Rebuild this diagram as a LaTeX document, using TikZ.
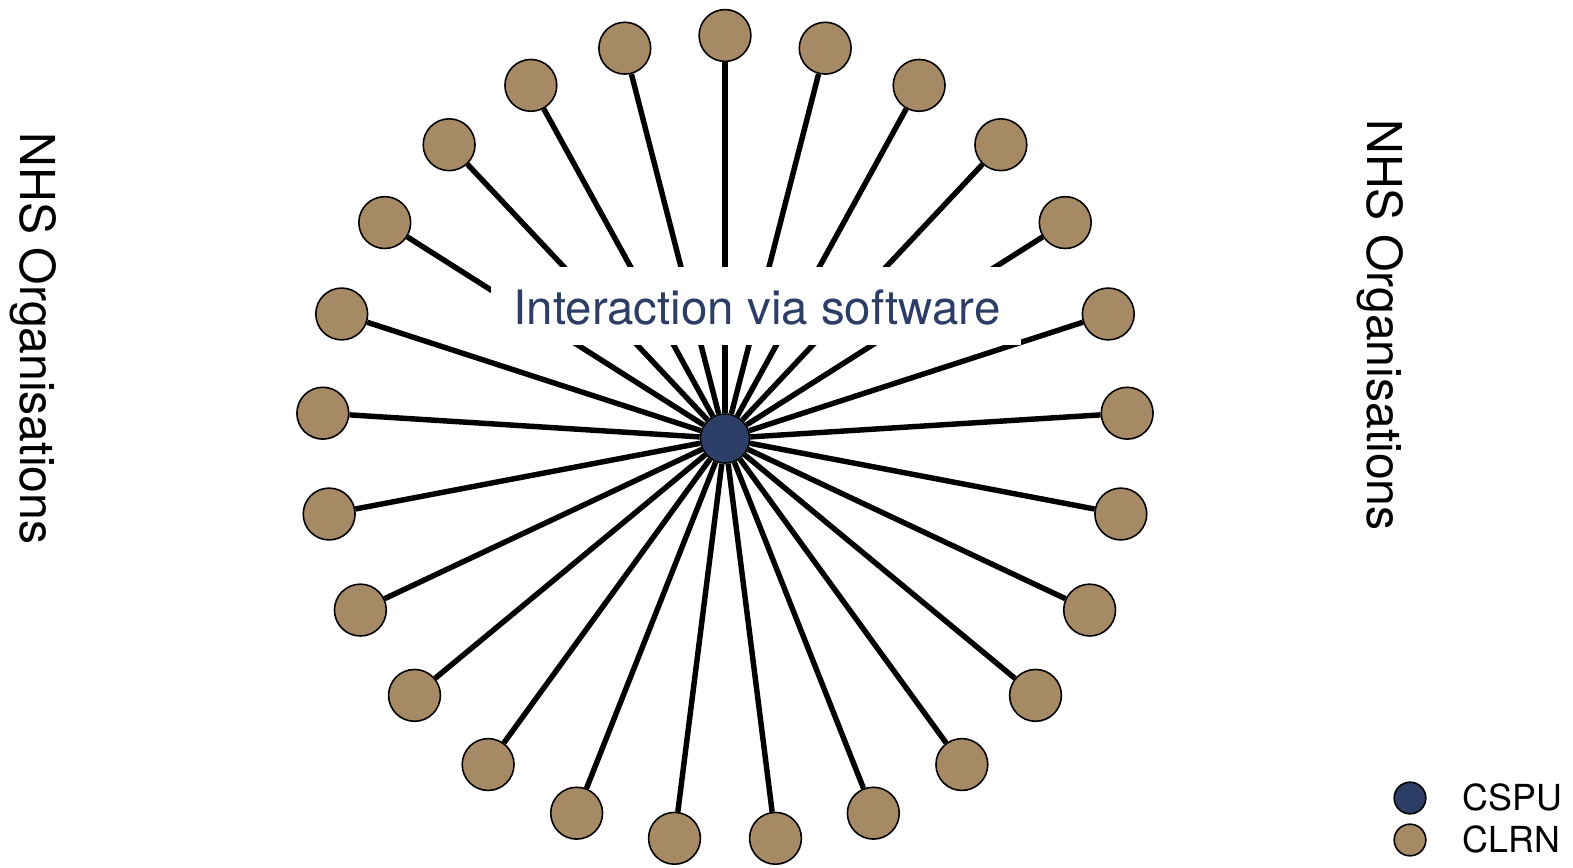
\documentclass[tikz,border=0pt]{standalone}
\usepackage{fontspec}
\setmainfont{TeX Gyre Heros}
\definecolor{navy}{RGB}{45,62,102}
\definecolor{tan}{RGB}{166,138,101}
\tikzset{
  clrn/.style={circle,draw=black,line width=0.9pt,fill=tan,minimum size=29.5pt,inner sep=0pt},
  cspu/.style={circle,draw=black,line width=0.9pt,fill=navy,minimum size=28pt,inner sep=0pt},
  spoke/.style={line width=3.1pt,black},
  sidetext/.style={font=\fontsize{27.4}{30}\selectfont,rotate=-90,anchor=base,inner sep=0pt},
  legtext/.style={font=\fontsize{20.4}{24}\selectfont,anchor=base west,inner sep=0pt},
  legdot/.style={circle,draw=black,line width=0.9pt,minimum size=18pt,inner sep=0pt}
}
\begin{document}
\begin{tikzpicture}[x=0.02cm,y=-0.02cm]
\useasboundingbox (0,0) rectangle (1573,868);
\node[cspu] (c) at (725,438.5) {};
\foreach \k in {0,...,24}{
  \node[clrn] (n\k) at ({725+403*cos(90-14.4*\k)},{438.5-403*sin(90-14.4*\k)}) {};
}
\foreach \k in {0,...,24}{
  \draw[spoke] (c) -- (n\k);
}
\node[fill=white,minimum width=532*0.5669pt,minimum height=78*0.5669pt,inner sep=0pt] (box) at (756,306) {};
\node[anchor=base,inner sep=0pt,text=navy,font=\fontsize{27}{30}\selectfont] (lbl) at (757,325) {Interaction via software};
\node[sidetext] (left) at (20,338.5) {NHS Organisations};
\node[sidetext] (right) at (1367,325) {NHS Organisations};
\node[legdot,fill=navy] (d1) at (1410,798) {};
\node[legdot,fill=tan] (d2) at (1410,840) {};
\node[legtext] (t1) at (1462,810) {CSPU};
\node[legtext] (t2) at (1462,852) {CLRN};
\end{tikzpicture}
\end{document}
